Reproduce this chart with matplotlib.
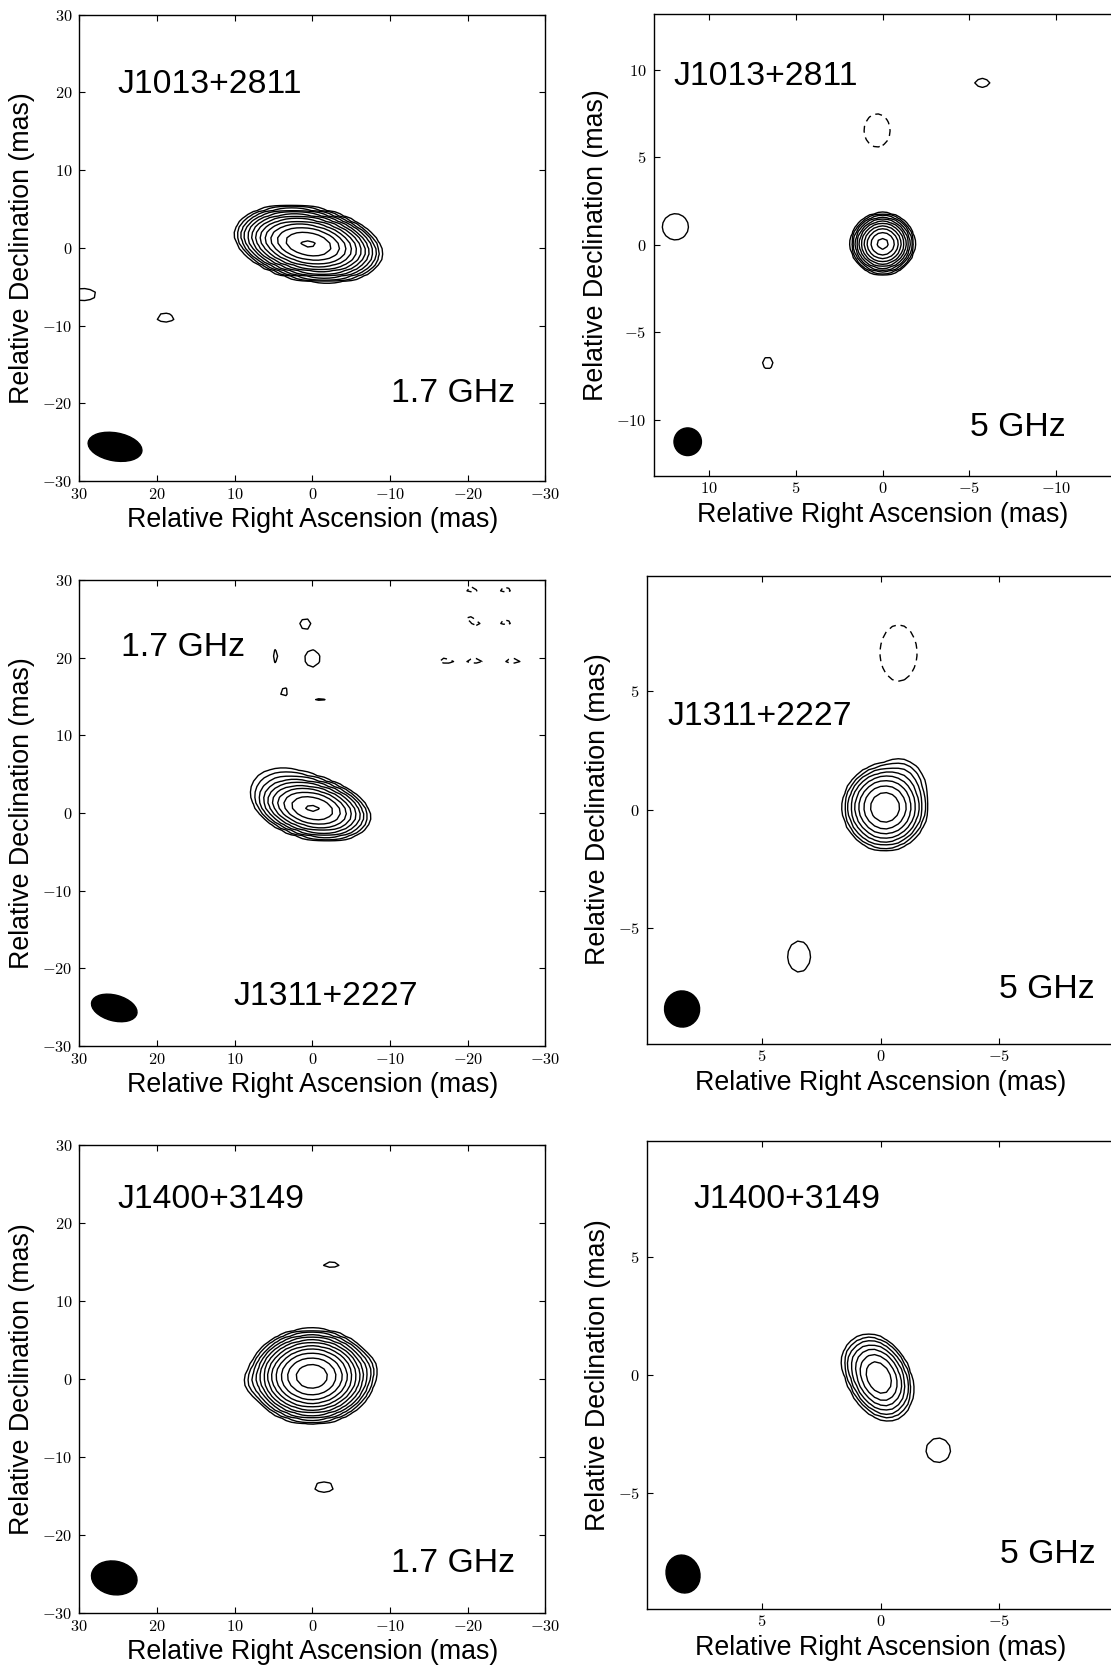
import numpy as np
import matplotlib
matplotlib.use("Agg")
import matplotlib.pyplot as plt
from matplotlib.patches import Ellipse
from matplotlib.ticker import FuncFormatter

plt.rcParams['font.family'] = ['Liberation Sans', 'DejaVu Sans']
plt.rcParams['mathtext.fontset'] = 'cm'

# source names and bands for each panel (row by row)
names = ['J1013+2811', 'J1013+2811', 'J1311+2227', 'J1311+2227', 'J1400+3149', 'J1400+3149']
bands = ['1.7 GHz', '5 GHz', '1.7 GHz', '5 GHz', '1.7 GHz', '5 GHz']
n_levels = [13, 11, 10, 8, 12, 7]

# gaussian components:
# x, y (mas), peak (in units of the lowest contour), fwhm major, fwhm minor, PA (deg)
comp_1013_L = [(0.5, 0.5, 4506, 5.5, 2.7, 80),
               (29.5, -6.0, 1.5, 4.4, 2.1, 90),
               (18.9, -9.0, 1.4, 3.3, 1.7, 90)]
comp_1013_C = [(0.0, 0.05, 1280, 1.15, 1.1, 90),
               (11.94, 1.02, 1.8, 1.63, 1.63, 0),
               (6.62, -6.77, 1.25, 1.2, 1.1, 0),
               (-5.74, 9.25, 1.25, 1.56, 0.9, 90),
               (0.32, 6.53, -1.5, 2.48, 1.96, 0)]
comp_1311_L = [(0.0, 0.6, 563, 5.0, 2.6, 78),
               (2.5, 2.5, 8, 6.0, 3.5, 75),
               (0.9, 24.35, 1.5, 1.9, 1.9, 0),
               (4.66, 20.2, 1.3, 3.0, 1.2, 0),
               (0.0, 19.9, 1.6, 2.7, 2.4, 0),
               (3.66, 15.6, 1.3, 2.0, 1.6, 0),
               (-1.0, 14.7, 1.15, 3.3, 1.0, 90),
               (-20.5, 28.9, -1.5, 2.8, 1.0, 90),
               (-24.85, 28.9, -1.5, 2.8, 1.0, 90),
               (-20.7, 24.7, -1.5, 2.8, 1.0, 60),
               (-24.85, 24.7, -1.5, 2.8, 1.0, 90),
               (-17.0, 19.7, -1.5, 2.8, 1.0, 80),
               (-20.9, 19.7, -1.5, 2.8, 1.0, 90),
               (-25.8, 19.7, -1.5, 2.8, 1.0, 90)]
comp_1311_C = [(-0.19, 0.09, 243, 1.3, 1.27, 0),
               (-1.0, 1.3, 4, 1.2, 1.0, 45),
               (3.44, -6.22, 2.02, 1.3, 0.95, 0),
               (-0.76, 6.62, -1.6, 2.9, 1.9, 0)]
comp_1400_L = [(0.07, 0.36, 3400, 4.7, 3.56, 90),
               (-6.8, 1.3, 2.2, 2.5, 2.0, 0),
               (7.4, -0.3, 2.2, 2.5, 2.0, 0),
               (-2.45, 14.73, 1.3, 3.4, 1.46, 90),
               (-1.5, -13.87, 1.5, 3.27, 1.78, 90)]
comp_1400_C = [(0.07, -0.12, 122, 1.45, 1.0, 25),
               (1.0, 0.6, 3, 1.0, 0.8, 0),
               (-2.44, -3.2, 1.6, 1.26, 1.26, 0)]
components = [comp_1013_L, comp_1013_C, comp_1311_L, comp_1311_C, comp_1400_L, comp_1400_C]

# restoring beams: x, y, major, minor, PA
beams = [(25.4, -25.6, 7.0, 3.6, 80),
         (11.23, -11.27, 1.58, 1.58, 0),
         (25.5, -25.1, 6.0, 3.3, 75),
         (8.38, -8.44, 1.53, 1.48, 10),
         (25.5, -25.5, 5.9, 4.3, 80),
         (8.34, -8.44, 1.63, 1.41, 20)]

# text positions (data coords)
name_pos = [(25.03, 20.97), (12.04, 9.6), (10.1, -23.6), (9.0, 3.95), (25.03, 23.1), (7.92, 7.41)]
band_pos = [(-10.14, -18.8), (-5.03, -10.47), (24.58, 21.25), (-5.02, -7.6), (-10.14, -23.7), (-5.04, -7.62)]

xlims = [(30, -30), (13.2, -16.5), (30, -30), (9.87, -12), (30, -30), (9.87, -12)]
ylims = [(-30, 30), (-13.2, 13.2), (-30, 30), (-9.9, 9.9), (-30, 30), (-9.9, 9.9)]
ticks = [[30, 20, 10, 0, -10, -20, -30], [10, 5, 0, -5, -10],
         [30, 20, 10, 0, -10, -20, -30], [5, 0, -5],
         [30, 20, 10, 0, -10, -20, -30], [5, 0, -5]]

# axes boxes in pixels: left, top, right, bottom
W, H = 1111, 1670
boxes = [(79.3, 14.8, 545.4, 481.0), (653.5, 13.8, 1169.1, 475.5),
         (79.3, 580.0, 545.4, 1046.0), (646.8, 575.5, 1164.7, 1043.5),
         (79.3, 1145.3, 545.4, 1613.0), (646.8, 1141.0, 1164.7, 1608.5)]


def make_map(comps, step, half):
    g = np.arange(-half, half + step / 2, step)
    X, Y = np.meshgrid(g, g)
    img = np.zeros_like(X)
    for x0, y0, amp, bmaj, bmin, pa in comps:
        t = np.radians(pa)
        dx, dy = X - x0, Y - y0
        u = dx * np.sin(t) + dy * np.cos(t)
        v = dx * np.cos(t) - dy * np.sin(t)
        smaj, smin = bmaj / 2.3548, bmin / 2.3548
        img += amp * np.exp(-0.5 * ((u / smaj) ** 2 + (v / smin) ** 2))
    return X, Y, img


fig = plt.figure(figsize=(W / 100, H / 100), dpi=100)
fmt = FuncFormatter(lambda v, p: r'$%d$' % v)

for i in range(6):
    l, t, r, b = boxes[i]
    ax = fig.add_axes([l / W, 1 - b / H, (r - l) / W, (b - t) / H])

    if i % 2 == 0:
        X, Y, img = make_map(components[i], 0.7, 33)
    else:
        X, Y, img = make_map(components[i], 0.25, 18)
    levels = [-1] + [2 ** k for k in range(n_levels[i])]
    styles = [(0, (5, 3.5))] + ['solid'] * n_levels[i]
    ax.contour(X, Y, img, levels=levels, colors='k', linewidths=1.0, linestyles=styles)

    bx, by, bmaj, bmin, bpa = beams[i]
    ax.add_patch(Ellipse((bx, by), bmaj, bmin, angle=90 - bpa, facecolor='k', edgecolor='k'))

    ax.text(name_pos[i][0], name_pos[i][1], names[i], fontsize=24.3, ha='left', va='center')
    ax.text(band_pos[i][0], band_pos[i][1], bands[i], fontsize=24.3, ha='left', va='center')

    ax.set_xlim(xlims[i])
    ax.set_ylim(ylims[i])
    ax.set_xticks(ticks[i])
    ax.set_yticks(ticks[i])
    ax.xaxis.set_major_formatter(fmt)
    ax.yaxis.set_major_formatter(fmt)
    ax.tick_params(direction='in', top=True, right=True, length=4.5, width=0.8,
                   labelsize=11.8, pad=5)
    ax.tick_params(axis='x', pad=4)
    for s in ax.spines.values():
        s.set_linewidth(1.0)

    ax.set_xlabel('Relative Right Ascension (mas)', fontsize=19.3, labelpad=4)
    ax.set_ylabel('Relative Declination (mas)', fontsize=19.3, labelpad=5)
    if i % 2 == 1:
        x0, x1 = xlims[i]
        ax.xaxis.label.set_x((0 - x0) / (x1 - x0))

fig.savefig('out.png', dpi=100)
